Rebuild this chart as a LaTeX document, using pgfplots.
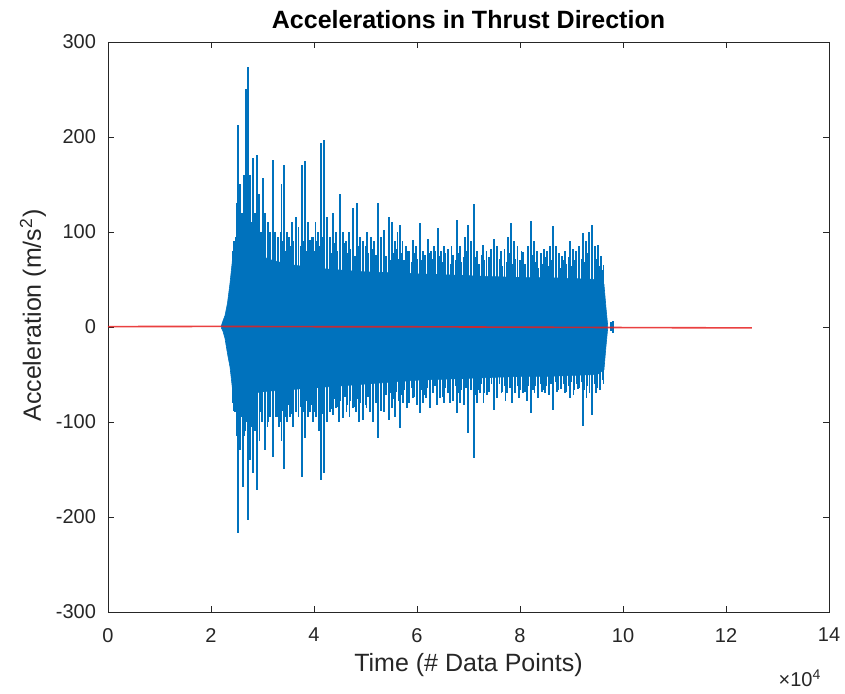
\documentclass[border=0pt]{standalone}
\usepackage{fontspec}
\setmainfont{Liberation Sans}
\usepackage{pgfplots}
\usepackage{pgfplotstable}
\pgfplotsset{compat=1.18}
\definecolor{mblue}{RGB}{0,114,189}
\definecolor{axgray}{RGB}{38,38,38}
\definecolor{mred}{RGB}{230,30,30}

% medium spikes along the top edge of the signal
\pgfplotstableread{
x y
24500 90
25000 105
25500 95
26000 115
26500 100
27000 120
27500 105
28000 95
28500 110
29000 100
29500 90
30000 105
30500 95
31000 85
31500 100
32000 90
32500 95
33000 85
33500 100
34000 90
34500 80
35000 95
35500 85
36000 90
36500 80
37000 95
37500 85
38000 90
38500 80
39000 85
39500 95
40000 80
40500 90
41000 85
41500 95
42000 80
42500 90
43000 85
43500 78
44000 88
44500 80
45000 85
45500 75
46000 88
46500 78
47000 82
47500 90
48000 75
48500 85
49000 80
49500 72
50000 85
50500 78
51000 70
51500 82
52000 76
52500 85
53000 72
53500 80
54000 75
54500 85
55000 70
55500 78
56000 82
56500 72
57000 78
57500 70
58000 80
58500 74
59000 68
59500 78
60000 72
60500 80
61000 70
61500 76
62000 68
62500 78
63000 72
63500 80
64000 70
64500 75
65000 68
65500 78
66000 72
66500 66
67000 76
67500 70
68000 78
68500 68
69000 74
69500 80
70000 70
70500 76
71000 68
71500 74
72000 66
72500 76
73000 70
73500 64
74000 74
74500 68
75000 76
75500 66
76000 72
76500 64
77000 74
77500 68
78000 78
78500 66
79000 72
79500 64
80000 70
80500 74
81000 66
81500 72
82000 64
82500 76
83000 68
83500 62
84000 72
84500 66
85000 74
85500 64
86000 70
86500 76
87000 66
87500 72
88000 62
88500 70
89000 66
89500 74
90000 64
90500 70
91000 76
91500 66
92000 72
92500 68
93000 78
93500 70
94000 74
94500 66
95000 72
95500 64
96000 60
}\uppermed

% medium spikes along the bottom edge of the signal
\pgfplotstableread{
x y
24500 -88
25000 -100
25500 -110
26000 -95
26500 -115
27000 -100
27500 -120
28000 -105
28500 -95
29000 -110
29500 -90
30000 -100
30500 -92
31000 -105
31500 -88
32000 -98
32500 -85
33000 -95
33500 -100
34000 -88
34500 -95
35000 -82
35500 -92
36000 -86
36500 -80
37000 -92
37500 -84
38000 -90
38500 -78
39000 -88
39500 -82
40000 -90
40500 -80
41000 -86
41500 -92
42000 -78
42500 -88
43000 -80
43500 -86
44000 -76
44500 -84
45000 -78
45500 -88
46000 -74
46500 -82
47000 -78
47500 -72
48000 -84
48500 -76
49000 -80
49500 -70
50000 -82
50500 -74
51000 -78
51500 -70
52000 -80
52500 -74
53000 -68
53500 -78
54000 -72
54500 -80
55000 -70
55500 -76
56000 -68
56500 -78
57000 -72
57500 -66
58000 -76
58500 -70
59000 -64
59500 -74
60000 -68
60500 -76
61000 -66
61500 -72
62000 -64
62500 -74
63000 -68
63500 -62
64000 -72
64500 -66
65000 -74
65500 -64
66000 -70
66500 -66
67000 -72
67500 -62
68000 -70
68500 -66
69000 -74
69500 -64
70000 -70
70500 -66
71000 -62
71500 -72
72000 -66
72500 -60
73000 -70
73500 -64
74000 -68
74500 -60
75000 -70
75500 -64
76000 -60
76500 -68
77000 -62
77500 -70
78000 -64
78500 -60
79000 -68
79500 -62
80000 -66
80500 -60
81000 -68
81500 -62
82000 -58
82500 -66
83000 -62
83500 -70
84000 -60
84500 -66
85000 -62
85500 -68
86000 -60
86500 -64
87000 -58
87500 -66
88000 -62
88500 -60
89000 -68
89500 -62
90000 -58
90500 -66
91000 -60
91500 -64
92000 -58
92500 -66
93000 -62
93500 -60
94000 -66
94500 -60
95000 -64
95500 -58
96000 -56
}\lowermed

\begin{document}
\begin{tikzpicture}
\begin{pgfinterruptboundingbox}
\begin{axis}[
  scale only axis,
  width=360.5pt,height=285pt,
  xmin=0,xmax=140000,ymin=-300,ymax=300,
  scaled x ticks=false,
  xtick={0,20000,...,140000},
  xticklabels={0,2,4,6,8,10,12,14},
  ytick={-300,-200,...,300},
  tick align=inside,
  major tick length=3pt,
  axis line style={axgray,line width=0.4pt},
  tick style={axgray,line width=0.4pt},
  /pgf/number format/assume math mode=true,
  ticklabel style={font=\fontsize{10}{12}\selectfont,text=axgray},
  xticklabel style={yshift=-4.5pt},
  yticklabel style={xshift=-2.5pt},
  title={\bfseries Accelerations in Thrust Direction},
  every axis title/.style={at={(axis description cs:0.5,1.0386)},anchor=center,font=\fontsize{12.5}{14}\selectfont},
  xlabel={Time (\# Data Points)},
  ylabel={Acceleration (m/s\textsuperscript{2})},
  label style={font=\fontsize{12.5}{14}\selectfont,text=axgray},
  xlabel style={at={(axis description cs:0.5,0)},anchor=center,yshift=-26.5pt},
  ylabel style={at={(axis description cs:-0.104,0.52)},anchor=center},
]
\coordinate (ll) at (rel axis cs:0,0);
\coordinate (ur) at (rel axis cs:1,1);

% dense core of the signal
\addplot[fill=mblue,draw=mblue,line width=0.3pt] coordinates {
(22000,1) (22300,6) (22718,12) (23200,25) (23689,46) (24272,76)
(25000,78) (26000,85) (27000,90) (28000,82) (29000,78) (30000,74)
(32000,70) (35000,66) (40000,62) (45000,60) (50000,58) (55000,57)
(60000,56) (65000,55) (70000,54) (75000,53) (80000,52) (85000,52)
(90000,51) (95000,50) (96300,45) (96700,20) (97000,3)
(97000,-3) (96700,-20) (96300,-45) (95000,-50) (90000,-51) (85000,-52)
(80000,-52) (75000,-53) (70000,-54) (65000,-55) (60000,-56) (55000,-58)
(50000,-60) (45000,-62) (40000,-64) (35000,-66) (30000,-68) (28000,-70)
(26000,-72) (25000,-70) (24272,-70) (23689,-42) (23200,-28) (22718,-12)
(22300,-4) (22000,-1)
} -- cycle;

\addplot[ycomb,mblue,line width=0.8pt,mark=none] table[x=x,y=y] {\uppermed};
\addplot[ycomb,mblue,line width=0.8pt,mark=none] table[x=x,y=y] {\lowermed};

% large upper spikes
\addplot[ycomb,mblue,line width=0.9pt,mark=none] coordinates {
(24300,80) (24800,95) (25000,130) (25200,213) (25600,150) (26000,120)
(26400,160) (26738,251) (27000,200) (27184,274) (27500,160) (27800,110)
(28097,178) (28500,120) (28932,181) (29300,140) (29700,100) (30100,157)
(30500,120) (31000,110) (31500,90) (32039,176) (32500,100) (33000,95)
(33700,150) (34175,170) (34700,100) (35200,95) (35700,110) (36500,116)
(37000,105) (37670,170) (38252,175) (38800,110) (39300,92) (39800,95)
(40300,110) (40800,100) (41359,194) (41942,197) (42500,116) (43100,95)
(43689,120) (44200,100) (45049,140) (45600,100) (46200,90) (46800,100)
(47573,125) (48350,130) (49000,95) (49515,90) (50300,100) (51000,95)
(51600,90) (52427,130) (53000,95) (53600,102) (54563,116) (55146,110)
(55700,90) (56200,100) (56699,107) (57200,90) (57800,85) (58500,80)
(59200,92) (59800,85) (60583,109) (61200,80) (62100,93) (62700,80)
(63300,85) (64078,104) (64700,80) (65200,85) (66000,82) (66700,85)
(67767,113) (68400,85) (69300,95) (69903,107) (70500,90) (71068,129)
(71700,80) (72816,86) (73500,80) (74300,82) (74951,93) (75600,85)
(76300,80) (77000,82) (77600,95) (78252,109) (78800,90) (79500,85)
(80300,80) (80600,79) (81500,85) (82136,112) (82700,90) (83300,80)
(84000,78) (84700,82) (85300,80) (85900,85) (86408,106) (87000,85)
(87600,78) (88200,75) (88800,80) (89709,90) (90300,82) (90900,80)
(91500,85) (92233,99) (92800,90) (93400,100) (93981,107) (94500,85)
(95146,86) (95700,75) (96200,65) (97600,5) (98000,6)
};

% large lower spikes
\addplot[ycomb,mblue,line width=0.9pt,mark=none] coordinates {
(24272,-80) (24700,-90) (25000,-115) (25243,-217) (25600,-130) (26214,-168)
(26700,-110) (27184,-203) (27600,-140) (28097,-154) (28500,-110) (28932,-172)
(29400,-120) (29800,-100) (30485,-129) (31000,-100) (31500,-95) (32039,-137)
(32600,-95) (33200,-105) (33700,-120) (34175,-150) (34700,-100) (35300,-95)
(35900,-105) (36500,-90) (37000,-95) (37670,-158) (38252,-117) (38800,-95)
(39300,-90) (39800,-100) (40400,-95) (40900,-110) (41359,-161) (41942,-154)
(42500,-100) (43100,-90) (43689,-93) (44200,-85) (44800,-100) (45631,-96)
(46300,-90) (46900,-95) (47500,-85) (48100,-90) (48700,-100) (49515,-98)
(50200,-85) (50800,-90) (51500,-100) (52427,-117) (53000,-88) (53600,-90)
(54563,-98) (55146,-85) (55800,-95) (56699,-106) (57300,-80) (58000,-85)
(58500,-80) (59200,-75) (60000,-82) (60583,-91) (61200,-80) (61800,-75)
(62500,-85) (63100,-70) (63883,-82) (64500,-75) (65200,-80) (66400,-80)
(67000,-78) (67767,-91) (68400,-80) (69200,-82) (69903,-112) (71068,-138)
(71600,-80) (72300,-70) (72900,-80) (73600,-72) (74951,-87) (75600,-75)
(76400,-70) (77200,-78) (78447,-80) (79000,-70) (79800,-75) (80600,-70)
(81400,-78) (82136,-91) (82800,-70) (83500,-75) (84200,-68) (84900,-70)
(85600,-72) (86408,-87) (87200,-68) (88000,-65) (88800,-70) (89709,-75)
(90400,-72) (91200,-65) (92233,-104) (92900,-75) (93500,-70) (93981,-93)
(94700,-70) (95534,-66) (96200,-60) (97600,-4) (98000,-6)
};

% mean line
\addplot[mred,line width=0.8pt,opacity=0.85] coordinates {
(0,0.4) (20000,0.6) (40000,0.3) (60000,0.2) (80000,-0.2) (100000,-0.6) (125000,-1.0)
};
\end{axis}
\end{pgfinterruptboundingbox}
\node[text=axgray,font=\fontsize{10}{12}\selectfont] at ([shift={(-14.5pt,-33pt)}]ur|-ll) {×10\textsuperscript{4}};
\path[use as bounding box] ([shift={(-54pt,-39.5pt)}]ll) rectangle ([shift={(8pt,21pt)}]ur);
\end{tikzpicture}
\end{document}
